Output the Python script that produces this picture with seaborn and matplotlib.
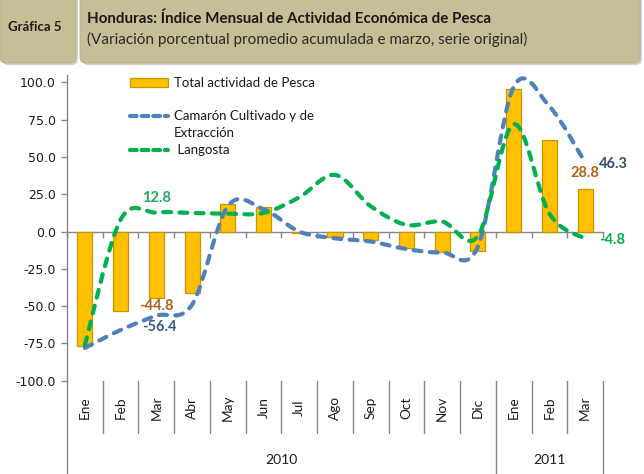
import numpy as np
import pandas as pd
import matplotlib
matplotlib.use("Agg")
import matplotlib.pyplot as plt
import seaborn as sns
from matplotlib.path import Path
from matplotlib.patches import PathPatch, FancyBboxPatch, Patch
from matplotlib.lines import Line2D

# ---------------- data ----------------
months = ["Ene", "Feb", "Mar", "Abr", "May", "Jun", "Jul", "Ago", "Sep", "Oct", "Nov", "Dic",
          "Ene", "Feb", "Mar"]
years = ["2010"] * 12 + ["2011"] * 3
year_labels = ["2010", "2011"]
total_pesca = [-76.5, -53.0, -44.8, -41.3, 18.6, 16.8, -1.0, -3.4, -5.6, -11.2, -13.4, -13.0,
               95.5, 61.5, 28.8]
camaron = [-78.0, -66.0, -56.4, -49.0, 17.0, 15.0, 0.0, -4.5, -6.7, -11.7, -14.0, -10.0,
           97.0, 84.0, 46.3]
langosta = [-76.0, 8.0, 12.8, 12.5, 12.0, 12.5, 23.0, 38.0, 17.0, 4.5, 6.7, -3.0,
            72.0, 12.0, -4.8]
y_ticks = [-100, -75, -50, -25, 0, 25, 50, 75, 100]

title = "Honduras: Índice Mensual de Actividad Económica de Pesca"
subtitle = "(Variación porcentual promedio acumulada e marzo, serie original)"
label_box = "Gráfica 5"
legend_labels = ["Total actividad de Pesca", "Camarón Cultivado y de", "Extracción", "Langosta"]

# ---------------- style ----------------
sns.set_theme(style="white")
plt.rcParams["font.family"] = ["Lato", "DejaVu Sans"]

GOLD = "#FFC000"
GOLD_EDGE = "#C99700"
BLUE = "#4F81BD"
GREEN = "#00B050"
AXIS = "#868686"
TAN = "#C5BE97"

W, H = 644, 474
fig = plt.figure(figsize=(W / 100, H / 100), dpi=100)
fig.patch.set_facecolor("white")

# background overlay in pixel coordinates for header boxes
bg = fig.add_axes([0, 0, 1, 1], zorder=-5)
bg.set_xlim(0, W)
bg.set_ylim(H, 0)
bg.axis("off")
for (x0, x1) in [(0, 76), (80, 640)]:
    sh = FancyBboxPatch((x0 + 2, -12), x1 - x0, 77, boxstyle="round,pad=0,rounding_size=6",
                        facecolor="#9a9a9a", edgecolor="none", alpha=0.45)
    bg.add_patch(sh)
    bx = FancyBboxPatch((x0, -14), x1 - x0, 77, boxstyle="round,pad=0,rounding_size=6",
                        facecolor=TAN, edgecolor="#b5ae88", lw=0.6)
    bg.add_patch(bx)
bg.text(8, 27, label_box, fontsize=9.5, fontweight="bold", color="#1a1a1a", va="center", ha="left")
bg.text(87, 18.5, title, fontsize=10.9, fontweight="bold", color="#1a1a1a", va="center", ha="left")
bg.text(87, 39.5, subtitle, fontsize=11, color="#2b2b2b", va="center", ha="left")

# main axes
ax_top_px, ax_bot_px = 75, 380.7
ax = fig.add_axes([67 / W, 1 - ax_bot_px / H, 536 / W, (ax_bot_px - ax_top_px) / H])
ax.set_facecolor("white")

n = len(months)
idx = np.arange(n)
df = pd.DataFrame({"pos": [f"{m} {y}" for m, y in zip(months, years)], "total": total_pesca})

sns.barplot(data=df, x="pos", y="total", color=GOLD, width=0.42, edgecolor=GOLD_EDGE,
            linewidth=0.9, saturation=1, ax=ax, zorder=2)


def smooth_path(xs, ys):
    pts = np.column_stack([xs, ys]).astype(float)
    m = len(pts)
    verts = [pts[0]]
    codes = [Path.MOVETO]
    for i in range(m - 1):
        p_prev = pts[i - 1] if i > 0 else pts[i]
        p_next2 = pts[i + 2] if i + 2 < m else pts[i + 1]
        c1 = pts[i] + (pts[i + 1] - p_prev) / 6.0
        c2 = pts[i + 1] - (p_next2 - pts[i]) / 6.0
        verts += [c1, c2, pts[i + 1]]
        codes += [Path.CURVE4] * 3
    return Path(verts, codes)


dash = (0, (1.9, 2.0))
for series, col in [(camaron, BLUE), (langosta, GREEN)]:
    pp = PathPatch(smooth_path(idx, series), facecolor="none", edgecolor=col, lw=3.0,
                   linestyle=dash, capstyle="round", zorder=3)
    ax.add_patch(pp)

ax.set_xlim(-0.5, n - 0.5)
ax.set_ylim(-100, 105)
ax.set_yticks(y_ticks)
ax.set_yticklabels([f"{v:.1f}" for v in y_ticks], fontsize=9, family="DejaVu Sans", color="#1a1a1a")
ax.set_xticks(np.arange(-0.5, n, 1.0))
ax.set_xticklabels([])
ax.set_xlabel("")
ax.set_ylabel("")
for s in ["top", "right"]:
    ax.spines[s].set_visible(False)
ax.spines["bottom"].set_position(("data", 0))
ax.spines["bottom"].set_color(AXIS)
ax.spines["left"].set_color(AXIS)
ax.spines["bottom"].set_linewidth(1.0)
ax.spines["left"].set_linewidth(1.0)
ax.spines["bottom"].set_zorder(1)
ax.tick_params(axis="x", direction="out", length=4, color=AXIS, width=1.0, labelbottom=False, bottom=True)
ax.tick_params(axis="y", direction="out", length=4, color=AXIS, width=1.0, left=True, pad=4)

# category labels below axis
ax_h_px = ax_bot_px - ax_top_px
def fy(px):
    return -(px - ax_bot_px) / ax_h_px

trans = ax.get_xaxis_transform()
for i, m in enumerate(months):
    ax.text(i, fy(408), m, rotation=90, ha="center", va="center", fontsize=9.8,
            color="#1a1a1a", transform=trans, clip_on=False)
for b in np.arange(0.5, n - 1, 1.0):
    if b == 11.5:
        continue
    ax.plot([b, b], [0, fy(433)], color=AXIS, lw=1.0, transform=trans, clip_on=False)
for b in [-0.5, 11.5, n - 0.5]:
    ax.plot([b, b], [0, fy(H + 2)], color=AXIS, lw=1.0, transform=trans, clip_on=False)
year_pos = {}
for i, y in enumerate(years):
    year_pos.setdefault(y, []).append(i)
for y in year_labels:
    ax.text(np.mean(year_pos[y]), fy(460), y, ha="center", va="center", fontsize=10,
            color="#1a1a1a", transform=trans, clip_on=False)

# value labels
lab_kw = dict(fontsize=10.5, fontweight="bold", textcoords="offset pixels", annotation_clip=False)
ax.annotate(f"{langosta[2]:.1f}", (2, langosta[2]), xytext=(0, 14), ha="center", va="center",
            color="#1FA864", **lab_kw)
ax.annotate(f"{total_pesca[2]:.1f}", (2, total_pesca[2]), xytext=(0, -8), ha="center", va="center",
            color="#B2611C", **lab_kw)
ax.annotate(f"{camaron[2]:.1f}", (2, camaron[2]), xytext=(3, -11), ha="center", va="center",
            color="#3A5A82", **lab_kw)
ax.annotate(f"{total_pesca[14]:.1f}", (14, total_pesca[14]), xytext=(0, 16), ha="center", va="center",
            color="#B2611C", **lab_kw)
ax.annotate(f"{camaron[14]:.1f}", (14, camaron[14]), xytext=(28, -1), ha="center", va="center",
            color="#2F4B6E", **lab_kw)
ax.annotate(f"{langosta[14]:.1f}", (14, langosta[14]), xytext=(27, -1), ha="center", va="center",
            color=GREEN, **lab_kw)

# legend
handles = [Patch(facecolor=GOLD, edgecolor=GOLD_EDGE, lw=0.9),
           Patch(alpha=0),
           Line2D([], [], color=BLUE, lw=3.0, linestyle=(0, (1.6, 1.2)), dash_capstyle="round"),
           Patch(alpha=0),
           Line2D([], [], color=GREEN, lw=3.0, linestyle=(0, (1.6, 1.2)), dash_capstyle="round")]
labels = [legend_labels[0], " ", legend_labels[1], legend_labels[2], " " + legend_labels[3]]
leg = fig.legend(handles, labels, loc="upper left", bbox_to_anchor=(130 / W, 1 - 77 / H),
                 frameon=False, fontsize=9.5, handlelength=2.9, handleheight=0.6,
                 handletextpad=0.45, labelspacing=0.36, borderpad=0, borderaxespad=0)
for t in leg.get_texts():
    t.set_color("#1a1a1a")

fig.savefig("out.png", dpi=100, facecolor="white")
